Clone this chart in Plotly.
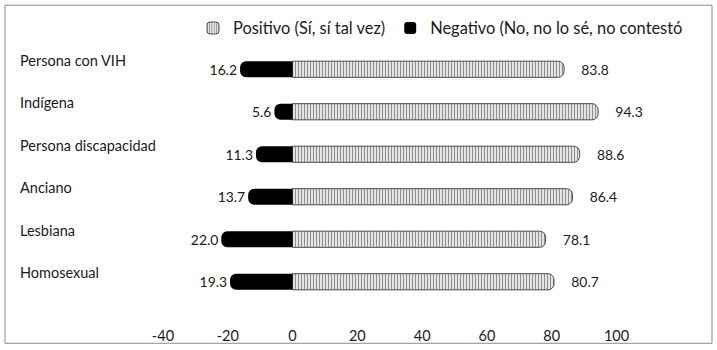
import plotly.graph_objects as go

categories = ["Persona con VIH", "Indígena", "Persona discapacidad", "Anciano", "Lesbiana", "Homosexual"]
positivo = [83.8, 94.3, 88.6, 86.4, 78.1, 80.7]
negativo = [16.2, 5.6, 11.3, 13.7, 22.0, 19.3]
tick_vals = [-40, -20, 0, 20, 40, 60, 80, 100]
tick_text = ["-40", "-20", "0", "20", "40", "60", "80", "100"]

FONT = "Lato, 'Open Sans', sans-serif"
FS = 14.5
FS_LAB = 15.5
FS_LEG = 16.4
TXT = "#1a1a1a"

fig = go.Figure()
fig.add_trace(go.Bar(
    y=categories, x=positivo, orientation="h", name="Positivo (Sí, sí tal vez)",
    width=0.38,
    marker=dict(color="#e6e6e6", cornerradius=6,
                line=dict(color="#4a4a4a", width=1),
                pattern=dict(shape="|", fgcolor="#222222", bgcolor="#ffffff", size=3, solidity=0.5)),
    text=[f"\u00a0\u00a0\u00a0\u00a0{v:.1f}" for v in positivo],
    textposition="outside", cliponaxis=False,
    textfont=dict(family=FONT, size=FS_LAB, color=TXT),
))
fig.add_trace(go.Bar(
    y=categories, x=[-v for v in negativo], orientation="h",
    name="Negativo (No, no lo sé, no contestó",
    width=0.38,
    marker=dict(color="#000000", cornerradius=6, line=dict(width=0)),
    text=[f"{v:.1f}" for v in negativo],
    textposition="outside", cliponaxis=False,
    textfont=dict(family=FONT, size=FS_LAB, color=TXT),
))

annotations = []
for c in categories:
    annotations.append(dict(
        x=18 / 717, xref="paper", y=c, yref="y", yshift=9,
        text=c, showarrow=False, xanchor="left", yanchor="middle",
        font=dict(family=FONT, size=FS, color=TXT)))

fig.update_layout(
    width=717, height=350,
    margin=dict(l=0, r=0, t=47.75, b=47.25, autoexpand=False),
    paper_bgcolor="white", plot_bgcolor="white",
    barmode="relative", bargap=0.62,
    font=dict(family=FONT, size=FS, color=TXT),
    showlegend=True,
    legend=dict(orientation="h", x=193 / 717, xanchor="left", y=1.077, yanchor="middle",
                font=dict(family=FONT, size=FS_LEG, color=TXT), traceorder="normal",
                bgcolor="rgba(0,0,0,0)"),
    xaxis=dict(range=[-90.3, 131.0], tickvals=tick_vals, ticktext=tick_text,
               showgrid=False, zeroline=False,
               showline=False, ticks="outside", ticklen=20, tickcolor="rgba(0,0,0,0)",
               tickfont=dict(family=FONT, size=FS, color=TXT)),
    yaxis=dict(autorange="reversed", showticklabels=False, showgrid=False, zeroline=False,
               showline=False, ticks=""),
    annotations=annotations,
    shapes=[dict(type="rect", xref="paper", yref="paper",
                 x0=5 / 717, x1=712 / 717, y0=-0.158, y1=1.1676,
                 line=dict(color="#8c8c8c", width=1), fillcolor="rgba(0,0,0,0)", layer="below")],
)

fig.write_html("out.html")
